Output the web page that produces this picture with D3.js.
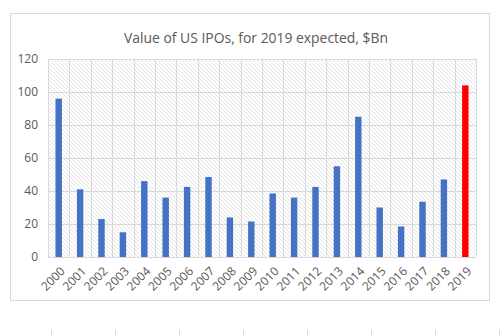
<!DOCTYPE html>
<html>
<head>
<meta charset="utf-8">
<script src="https://cdn.jsdelivr.net/npm/d3@7"></script>
<style>
  body { margin: 0; background: #fff; }
  svg { display: block; }
</style>
</head>
<body>
<div id="graph"><svg></svg></div>
<script>
// data
let years = ["2000", "2001", "2002", "2003", "2004", "2005", "2006", "2007", "2008", "2009",
  "2010", "2011", "2012", "2013", "2014", "2015", "2016", "2017", "2018", "2019"];
let values = [96, 41, 23, 15, 46, 36, 42.5, 48.5, 24, 21.5,
  38.5, 36, 42.5, 55, 85, 30, 18.5, 33.5, 47, 104];
let yTicks = [0, 20, 40, 60, 80, 100, 120];
let highlightYear = "2019";
let titleText = "Value of US IPOs, for 2019 expected, $Bn";

let width = 502, height = 336;
let margins = { top: 59, right: 26, bottom: 79, left: 48 };
let innerWidth = width - margins.left - margins.right;
let innerHeight = height - margins.top - margins.bottom;

let svg = d3.select("div#graph svg")
  .attr("width", width)
  .attr("height", height);

// hatch pattern for the plot background
let defs = svg.append("defs");
let pat = defs.append("pattern")
  .attr("id", "hatch")
  .attr("patternUnits", "userSpaceOnUse")
  .attr("width", 4)
  .attr("height", 4);
pat.append("rect").attr("width", 4).attr("height", 4).attr("fill", "#fff");
pat.append("path")
  .attr("d", "M-1,-1 L5,5 M-1,3 L1,5 M3,-1 L5,1")
  .attr("stroke", "#e0e0e0")
  .attr("stroke-width", 0.9);

// chart frame
svg.append("rect")
  .attr("x", 10.5).attr("y", 13.5)
  .attr("width", 479).attr("height", 287)
  .attr("fill", "#fff")
  .attr("stroke", "#d9d9d9");

// stray ticks of the next chart below
svg.append("g")
  .selectAll("line")
  .data(d3.range(8))
  .join("line")
  .attr("x1", (d) => 51.5 + d * 64)
  .attr("x2", (d) => 51.5 + d * 64)
  .attr("y1", 330).attr("y2", 336)
  .attr("stroke", "#d9d9d9");

let g = svg.append("g")
  .attr("transform", "translate(" + margins.left + "," + margins.top + ")");

let xScale = d3.scaleBand().domain(years).range([0, innerWidth]).paddingInner(0.7).paddingOuter(0.35);
let xGrid = d3.scaleBand().domain(years).range([0, innerWidth]);
let yScale = d3.scaleLinear().domain([0, 120]).range([innerHeight, 0]);

g.append("rect")
  .attr("width", innerWidth)
  .attr("height", innerHeight)
  .attr("fill", "url(#hatch)");

// horizontal gridlines
g.append("g")
  .selectAll("line")
  .data(yTicks)
  .join("line")
  .attr("x1", 0).attr("x2", innerWidth)
  .attr("y1", (d) => Math.round(yScale(d)) + 0.5)
  .attr("y2", (d) => Math.round(yScale(d)) + 0.5)
  .attr("stroke", "#d9d9d9");

// vertical gridlines between categories
g.append("g")
  .selectAll("line")
  .data(years.concat(["end"]))
  .join("line")
  .attr("x1", (d, i) => Math.round(i * xGrid.bandwidth()) + 0.5)
  .attr("x2", (d, i) => Math.round(i * xGrid.bandwidth()) + 0.5)
  .attr("y1", 0).attr("y2", innerHeight)
  .attr("stroke", "#d9d9d9");

// bars
g.append("g")
  .selectAll("rect")
  .data(values)
  .join("rect")
  .attr("x", (d, i) => xScale(years[i]))
  .attr("width", xScale.bandwidth())
  .attr("y", (d) => yScale(d))
  .attr("height", (d) => innerHeight - yScale(d))
  .attr("fill", (d, i) => years[i] == highlightYear ? "#ff0000" : "#4472c4");

// y axis labels
g.append("g")
  .call(d3.axisLeft(yScale).tickValues(yTicks).tickSize(0).tickPadding(10))
  .call((a) => a.select(".domain").remove())
  .selectAll("text")
  .style("font-family", "'Open Sans', Lato, sans-serif")
  .style("font-size", "12px")
  .attr("fill", "#595959");

// x axis labels, rotated
g.append("g")
  .attr("transform", "translate(0," + innerHeight + ")")
  .call(d3.axisBottom(xScale).tickSize(0).tickPadding(0))
  .call((a) => a.select(".domain").remove())
  .selectAll("text")
  .style("font-family", "'Open Sans', Lato, sans-serif")
  .style("font-size", "12px")
  .attr("fill", "#595959")
  .attr("text-anchor", "end")
  .attr("dy", "0.35em")
  .attr("transform", "translate(4,12) rotate(-45)");

// title
let title = svg.append("text")
  .attr("x", 256)
  .attr("y", 43)
  .attr("text-anchor", "middle")
  .style("font-family", "'Open Sans', Lato, sans-serif")
  .style("font-size", "15px")
  .attr("fill", "#595959")
  .text(titleText);
let tw = title.node().getComputedTextLength();
title.style("font-size", (15 * 264 / tw).toFixed(2) + "px");
</script>
</body>
</html>
